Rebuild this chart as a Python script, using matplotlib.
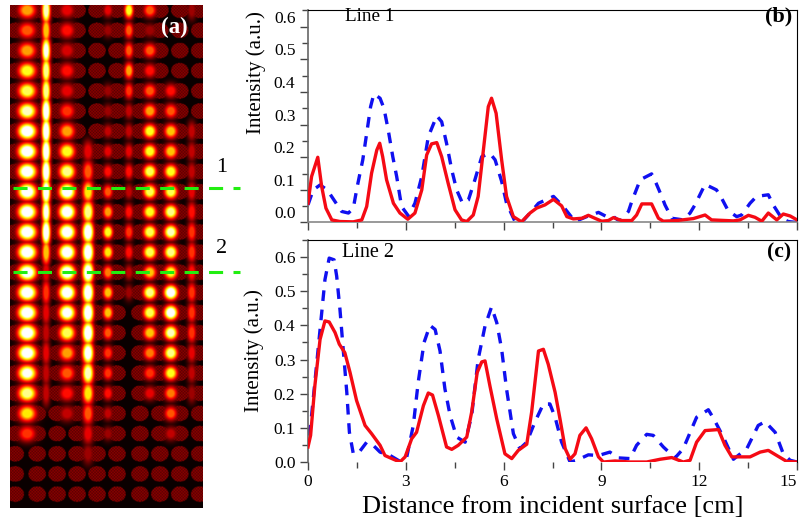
#!/usr/bin/env python3
"""Intensity map with two line profiles: (a) map, (b) line 1, (c) line 2."""

import numpy as np
import matplotlib
matplotlib.use("Agg")
import matplotlib.pyplot as plt
from matplotlib.ticker import MultipleLocator

plt.rcParams["font.family"] = ["Liberation Serif", "DejaVu Serif"]

# -- panel (b), line 1 -------------------------------------------------------
b_red_x = [0, .11, .30, .42, .55, .73, .98, 1.39, 1.65, 1.80, 1.95, 2.11, 2.20, 2.29, 2.41, 2.62, 2.82, 3.06,
           3.28, 3.49, 3.64, 3.79, 3.95, 4.10, 4.30, 4.51, 4.71, 4.87, 5.07, 5.22, 5.38, 5.53, 5.63, 5.77,
           5.94, 6.09, 6.30, 6.55, 6.81, 7.01, 7.27, 7.53, 7.78, 7.94, 8.14, 8.40, 8.60, 8.80, 9.01, 9.21,
           9.37, 9.62, 9.93, 10.08, 10.24, 10.54, 10.75, 10.90, 11.31, 11.82, 12.18, 12.38, 13.05, 13.25,
           13.51, 13.71, 13.92, 14.12, 14.38, 14.58, 14.79, 15.0]
b_red_y = [.059, .141, .200, .110, .044, .008, .003, .002, .008, .049, .151, .222, .243, .202, .131, .059, .029, .010,
           .029, .100, .207, .241, .245, .202, .120, .039, .008, .003, .023, .080, .222, .355, .381, .335,
           .192, .080, .018, .002, .029, .044, .054, .071, .051, .018, .011, .013, .022, .013, .004, .006,
           .015, .006, .006, .023, .057, .057, .013, .004, .006, .012, .023, .008, .005, .008,
           .022, .016, .004, .029, .008, .026, .020, .008]
b_blue_x = [0, .16, .37, .59, .83, 1.03, 1.24, 1.39, 1.51, 1.68, 1.80, 1.92, 2.02, 2.21, 2.33, 2.46, 2.60, 2.72, 2.87,
            3.08, 3.28, 3.49, 3.69, 3.95, 4.10, 4.25, 4.41, 4.56, 4.74, 4.92, 5.12, 5.33, 5.58, 5.74, 5.94,
            6.09, 6.35, 6.55, 6.81, 7.07, 7.53, 7.83, 8.19, 8.55, 8.91, 9.16, 9.37, 9.57, 9.83, 9.93, 10.19,
            10.54, 10.68, 10.85, 10.95, 11.16, 11.51, 11.72, 11.87, 12.18, 12.53, 12.69, 12.89, 13.15, 13.30,
            13.56, 13.76, 14.12, 14.27, 14.53, 14.73, 15.0]
b_blue_y = [.054, .100, .115, .100, .064, .034, .029, .044, .110, .192, .273, .355, .394, .381, .350, .284, .202, .141, .049,
            .020, .059, .141, .263, .327, .309, .243, .161, .100, .059, .069, .131, .202, .212, .192, .126,
            .059, .003, 0, .029, .059, .080, .049, .003, .018, .031, .018, .018, .003, .034, .064, .131,
            .149, .120, .080, .054, .013, .008, .029, .054, .117, .100, .074, .036, .018, .023,
            .059, .080, .085, .054, .013, .003, 0]

# -- panel (c), line 2 -------------------------------------------------------
c_red_x = [0, .08, .21, .37, .52, .65, .83, .96, 1.13, 1.29, 1.49, 1.75, 1.95, 2.21, 2.36, 2.62, 2.82, 2.98, 3.18,
           3.33, 3.54, 3.69, 3.82, 4.00, 4.25, 4.41, 4.61, 4.87, 5.02, 5.19, 5.33, 5.43, 5.58, 5.79, 6.04,
           6.25, 6.45, 6.71, 6.86, 7.07, 7.22, 7.37, 7.58, 7.73, 7.89, 8.04, 8.19, 8.34, 8.53, 8.70, 8.91,
           9.06, 9.42, 9.88, 10.39, 10.80, 11.16, 11.51, 11.72, 11.92, 12.18, 12.59, 12.79, 13.0, 13.56,
           13.87, 14.12, 14.38, 14.68, 15.0]
c_red_y = [.044, .078, .223, .359, .413, .410, .379, .345, .320, .262, .180, .107, .083, .049, .019, .008, 0, .015, .068,
           .087, .165, .202, .196, .136, .044, .037, .049, .073, .146, .262, .293, .296, .223, .126, .024,
           .010, .034, .052, .146, .325, .330, .286, .204, .126, .039, .008, .024, .078, .100, .068, .015,
           0, .003, 0, 0, .008, .013, 0, .005, .058, .092, .095, .049, .015, .015,
           .029, .034, .019, .002, 0]
c_blue_x = [0, .08, .21, .37, .52, .65, .80, .88, .98, 1.08, 1.19, 1.27, 1.39, 1.57, 1.80, 2.00, 2.21, 2.52, 2.82, 3.03,
            3.23, 3.38, 3.56, 3.74, 3.90, 4.05, 4.20, 4.36, 4.56, 4.82, 5.02, 5.22, 5.43, 5.63, 5.79, 5.94,
            6.09, 6.30, 6.50, 6.71, 6.96, 7.22, 7.42, 7.58, 7.78, 8.04, 8.24, 8.60, 8.91, 9.26, 9.52, 9.88,
            10.08, 10.39, 10.59, 10.90, 11.26, 11.51, 11.92, 12.28, 12.45, 12.74, 13.05, 13.46, 13.81, 14.02,
            14.33, 14.58, 14.79, 15.0]
c_blue_y = [.078, .107, .233, .388, .534, .597, .592, .544, .447, .330, .204, .087, .024, .029, .058, .049, .029, .019, .002, .015,
            .107, .233, .350, .400, .388, .325, .214, .136, .073, .058, .136, .301, .398, .454, .408, .330,
            .214, .083, .039, .058, .117, .170, .170, .131, .058, 0, .005, .021, .019, .029, .012, .010,
            .049, .081, .078, .044, .012, .039, .131, .153, .126, .073, .008, .039, .107, .118,
            .087, .024, .005, 0]

x_major = [0, 3, 6, 9, 12, 15]

# -- panel (a), brightness of the hot spots, one row per lattice row ---------
hot_cols = [27, 46, 67, 88, 108, 129, 150, 171, 192]
hot_sigma_x = [9, 4.2, 8, 5.5, 5, 4.5, 6.5, 6.5, 4.5]
hot_sigma_y = [8, 13, 8, 11, 7, 8, 7, 7, 10]
hot_spots = [
    [.55, .85, .30, .00, .30, .70, .45, .15, .20],
    [.45, .60, .35, .00, .20, .45, .20, .15, .15],
    [.55, .90, .28, .00, .15, .45, .45, .15, .15],
    [.70, .80, .35, .00, .15, .55, .35, .15, .15],
    [.75, .80, .30, .00, .20, .40, .45, .35, .15],
    [.85, 1.0, .40, .00, .20, .25, .55, .45, .15],
    [1.0, 1.0, .55, .00, .25, .25, .70, .60, .25],
    [1.0, 1.0, .70, .30, .30, .30, .70, .60, .25],
    [1.0, 1.0, .80, .45, .35, .35, .75, .70, .25],
    [1.0, 1.0, 1.0, .65, .45, .25, .75, .75, .30],
    [1.0, .90, 1.0, .80, .55, .35, .70, .80, .35],
    [1.0, 1.0, 1.0, 1.0, .70, .40, .75, .85, .40],
    [1.0, .60, 1.0, 1.0, .65, .35, .75, .80, .40],
    [1.0, .30, 1.0, 1.0, .50, .25, .60, .70, .35],
    [1.0, .40, 1.0, 1.0, .60, .20, .80, 1.0, .40],
    [1.0, .30, .95, 1.0, .60, .15, .75, 1.0, .40],
    [1.0, .25, .75, 1.0, .45, .15, .60, .85, .40],
    [.98, .30, .55, .95, .40, .15, .50, .80, .30],
    [.90, .25, .45, .85, .40, .15, .40, .70, .25],
    [.80, .25, .35, .65, .35, .15, .30, .50, .20],
    [.65, .15, .25, .45, .25, .15, .15, .45, .15],
    [.40, .15, .15, .30, .20, .15, .15, .25, .15],
    [.15, .15, .15, .20, .15, .15, .15, .15, .15],
    [.15, .15, .15, .15, .15, .15, .15, .15, .15],
    [.15, .15, .15, .15, .15, .15, .15, .15, .15],
]
hot_rows = [10 + 20.2 * i for i in range(len(hot_spots))]
bg_cols = [15, 37, 57, 77, 97, 117, 140, 160, 180, 200]
bg_level = 0.2


def px_axes(fig, left, top, right, bottom):
    W, H = 802.0, 527.0
    return fig.add_axes([left / W, 1 - bottom / H, (right - left) / W, (bottom - top) / H])


def build_map():
    yy, xx = np.mgrid[5:509:0.5, 10:203.5:0.5]
    field = np.zeros_like(xx)
    # dark lattice of round dots between the bright columns
    for y0 in hot_rows:
        for x0 in bg_cols:
            d = np.hypot((xx - x0) / 8.8, (yy - y0) / 7.8)
            field = np.maximum(field, bg_level * (d < 1))
    # fine dither seen in the dark part of the map
    dither = (np.floor(xx / 1.5) + np.floor(yy / 1.5)) % 2 == 0
    field[dither] *= 0.55
    # bright spots, the faintest ones stay part of the dark lattice
    spots = np.array(hot_spots)
    for j, x0 in enumerate(hot_cols):
        for i, y0 in enumerate(hot_rows):
            if spots[i, j] < 0.2:
                continue
            g = np.exp(-((xx - x0) / hot_sigma_x[j]) ** 2 - ((yy - y0) / hot_sigma_y[j]) ** 2)
            field = np.maximum(field, np.minimum(spots[i, j] * 1.35 * g, spots[i, j] * 1.1))
    return field


def draw_profile(ax, red_x, red_y, blue_x, blue_y, ymax):
    ax.plot(blue_x, blue_y, color="#1010f0", lw=2.4, ls=(0, (3.2, 2.6)), zorder=2)
    ax.plot(red_x, red_y, color="#f50a14", lw=2.4, zorder=3)
    ax.set_xlim(0, 15)
    ax.set_ylim(0, ymax)
    ax.xaxis.set_major_locator(plt.FixedLocator(x_major))
    ax.xaxis.set_minor_locator(MultipleLocator(1.5))
    ax.yaxis.set_major_locator(MultipleLocator(0.1))
    ax.yaxis.set_minor_locator(MultipleLocator(0.05))
    ax.tick_params(which="major", length=6, width=1, color="#444444", labelsize=12.5, pad=3)
    ax.tick_params(which="minor", length=4, width=1, color="#444444")
    ax.spines["left"].set_color("#666666")
    ax.spines["left"].set_linewidth(1.2)
    ax.spines["bottom"].set_color("#888888")
    ax.spines["bottom"].set_linewidth(1.2)


def main():
    fig = plt.figure(figsize=(8.02, 5.27), dpi=100)

    # -- map -----------------------------------------------------------------
    ax_a = px_axes(fig, 10, 5, 203, 508)
    ax_a.imshow(build_map(), cmap="hot", vmin=0, vmax=1, extent=(10, 203, 508, 5),
                aspect="auto", interpolation="bilinear")
    ax_a.set_axis_off()
    for y0 in (188, 272):
        ax_a.plot([13, 240], [y0, y0], color="#22ee11", lw=2.2, ls=(0, (4.6, 3.4)),
                  clip_on=False)
    ax_a.set_xlim(10, 203)
    ax_a.set_ylim(508, 5)
    ax_a.text(174, 27, "(a)", color="white", fontsize=16.5, fontweight="bold", ha="center", va="center")
    ax_a.text(222, 167, "1", fontsize=16, ha="center", va="center", clip_on=False)
    ax_a.text(222, 248, "2", fontsize=16, ha="center", va="center", clip_on=False)

    # -- line 1 --------------------------------------------------------------
    ax_b = px_axes(fig, 308, 9.5, 797, 222.5)
    draw_profile(ax_b, b_red_x, b_red_y, b_blue_x, b_blue_y, 0.653)
    ax_b.tick_params(axis="x", which="both", labelbottom=False)
    for lab in ax_b.get_yticklabels():
        lab.set_verticalalignment("bottom")
    ax_b.set_ylabel("Intensity (a.u.)", fontsize=15)
    ax_b.yaxis.set_label_coords(-0.085, 0.706)
    ax_b.text(0.075, 0.965, "Line 1", transform=ax_b.transAxes, fontsize=13.8, va="center")
    ax_b.text(0.99, 0.965, "(b)", transform=ax_b.transAxes, fontsize=16, fontweight="bold",
              ha="right", va="center")

    # -- line 2 --------------------------------------------------------------
    ax_c = px_axes(fig, 308, 240, 797, 462)
    draw_profile(ax_c, c_red_x, c_red_y, c_blue_x, c_blue_y, 0.65)
    ax_c.spines["bottom"].set_visible(False)
    ax_c.get_xticklabels()[-1].set_horizontalalignment("right")
    ax_c.set_ylabel("Intensity (a.u.)", fontsize=15)
    ax_c.yaxis.set_label_coords(-0.09, 0.5)
    ax_c.set_xlabel("Distance from incident surface [cm]", fontsize=19, labelpad=4)
    ax_c.text(0.069, 0.945, "Line 2", transform=ax_c.transAxes, fontsize=14.5, va="center")
    ax_c.text(0.987, 0.945, "(c)", transform=ax_c.transAxes, fontsize=15.5, fontweight="bold",
              ha="right", va="center")

    fig.savefig("out.png", dpi=100)
    plt.close(fig)


if __name__ == "__main__":
    main()
